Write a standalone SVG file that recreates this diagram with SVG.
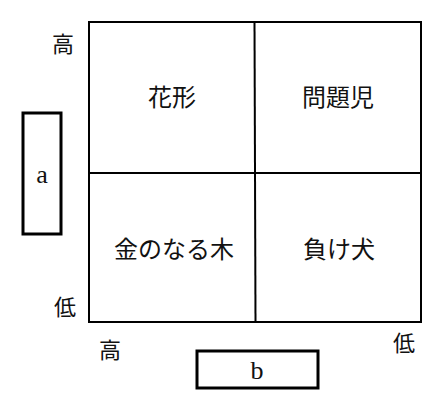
<svg xmlns="http://www.w3.org/2000/svg" width="440" height="408" viewBox="0 0 440 408">
<style>
.grid{fill:none;stroke:#000;stroke-width:2}
.box{fill:#fff;stroke:#000;stroke-width:3}
.jp{font-family:"Noto Sans CJK JP","Noto Sans CJK SC",sans-serif;font-size:24px;fill:#111;text-anchor:middle}
.ax{font-family:"Noto Sans CJK JP","Noto Sans CJK SC",sans-serif;font-size:22px;fill:#111;text-anchor:middle}
.lt{font-family:"Liberation Serif",serif;font-size:26px;fill:#111;text-anchor:middle}
</style>
<rect width="440" height="408" fill="#fff"/>
<g id="connectors">
<rect class="grid" x="89" y="22" width="332" height="300"/>
<line class="grid" x1="254.5" y1="22" x2="255.5" y2="322"/>
<line class="grid" x1="89" y1="173" x2="421" y2="173"/>
</g>
<g id="q-hanagata"><text class="jp" x="172" y="106">花形</text></g>
<g id="q-mondaiji"><text class="jp" x="338" y="106">問題児</text></g>
<g id="q-kane"><text class="jp" x="174" y="258">金のなる木</text></g>
<g id="q-makeinu"><text class="jp" x="339" y="258">負け犬</text></g>
<g id="axis-labels">
<text class="ax" x="63" y="52">高</text>
<text class="ax" x="65" y="315">低</text>
<text class="ax" x="110" y="358">高</text>
<text class="ax" x="404" y="351">低</text>
</g>
<g id="box-a">
<rect class="box" x="23" y="113" width="38" height="121"/>
<text class="lt" x="42" y="183">a</text>
</g>
<g id="box-b">
<rect class="box" x="197" y="351" width="121" height="37"/>
<text class="lt" x="257" y="379">b</text>
</g>
</svg>
